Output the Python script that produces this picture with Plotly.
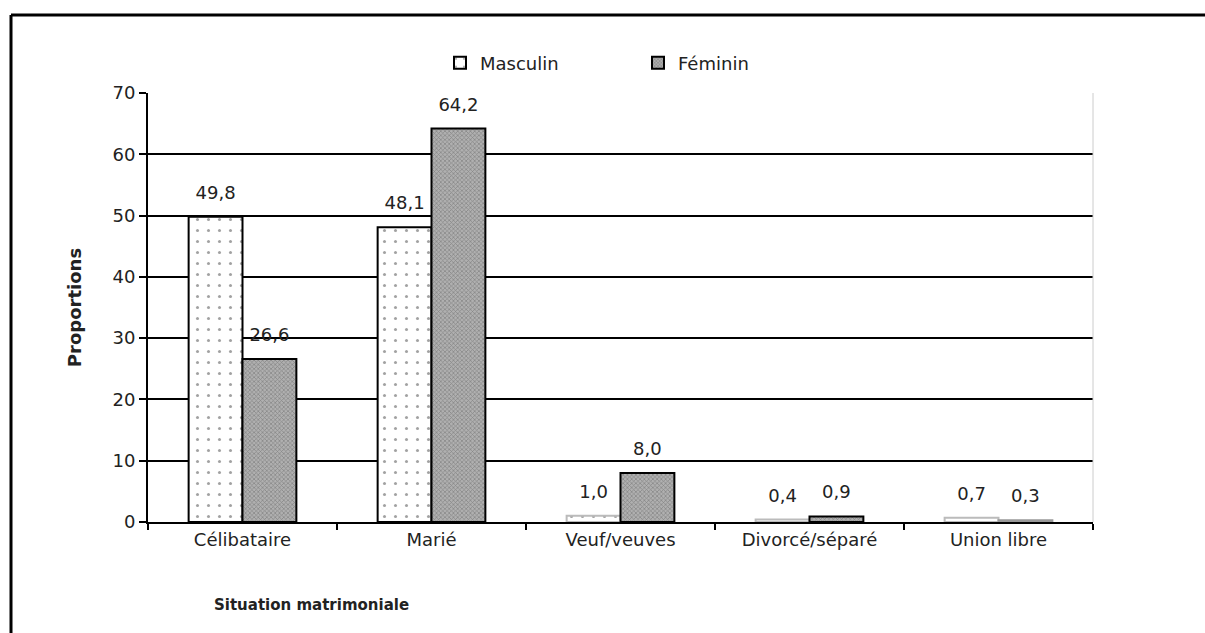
import plotly.graph_objects as go

categories = ["Célibataire", "Marié", "Veuf/veuves", "Divorcé/séparé", "Union libre"]
masculin = [49.8, 48.1, 1.0, 0.4, 0.7]
feminin = [26.6, 64.2, 8.0, 0.9, 0.3]
y_ticks = [0, 10, 20, 30, 40, 50, 60, 70]

def fr(v):
    return f"{v:.1f}".replace(".", ",")

def label(v):
    return f"<span style='font-size:18px'>{fr(v)}</span><br> "

FONT = "DejaVu Sans"

fig = go.Figure()
fig.add_trace(go.Bar(
    name="Masculin", x=categories, y=masculin,
    text=[label(v) for v in masculin], textposition="outside",
    textfont=dict(size=10, color="#222", family=FONT), cliponaxis=False,
    marker=dict(color="white",
                line=dict(color=["black", "black", "#bbbbbb", "#bbbbbb", "#bbbbbb"], width=2),
                pattern=dict(shape=".", fgcolor="#444", bgcolor="white", size=11, solidity=0.06)),
))
fig.add_trace(go.Bar(
    name="Féminin", x=categories, y=feminin,
    text=[label(v) for v in feminin], textposition="outside",
    textfont=dict(size=10, color="#222", family=FONT), cliponaxis=False,
    marker=dict(color="#9a9a9a",
                line=dict(color=["black", "black", "black", "black", "#999999"], width=2),
                pattern=dict(shape="x", fgcolor="#555", bgcolor="#b0b0b0", size=3, solidity=0.4)),
))

W, H = 1205, 633
L, R, T, B = 148, 112, 93, 111
pw, ph = W - L - R, H - T - B

fig.update_layout(
    width=W, height=H,
    margin=dict(l=L, r=R, t=T, b=B),
    paper_bgcolor="white", plot_bgcolor="white",
    font=dict(family=FONT, size=18, color="#222"),
    barmode="group", bargap=0.43, bargroupgap=0,
    uniformtext=dict(mode=False),
    showlegend=True,
    legend=dict(orientation="h", x=(440 - L) / pw, xanchor="left", y=1 + 30 / ph, yanchor="middle",
                font=dict(size=18), entrywidth=153, itemwidth=30, traceorder="normal"),
    xaxis=dict(showline=True, linecolor="black", linewidth=2, ticks="outside", tickson="boundaries",
               ticklen=6, tickwidth=2, tickcolor="black", tickfont=dict(size=18),
               showgrid=False, mirror=False),
    yaxis=dict(range=[0, 70], tickvals=y_ticks, showline=True, linecolor="black", linewidth=2,
               ticks="outside", ticklen=7, tickwidth=2, tickcolor="black",
               showgrid=True, gridcolor="black", gridwidth=1.5, zeroline=False,
               tickfont=dict(size=18),
               title=dict(text="<b>Proportions</b>", font=dict(size=18), standoff=26)),
    annotations=[dict(text="<b>Situation matrimoniale</b>", xref="paper", yref="paper",
                      x=(311 - L) / pw, y=-(605 - (T + ph)) / ph, xanchor="center", yanchor="middle",
                      showarrow=False, font=dict(size=15))],
    shapes=[
        dict(type="line", xref="paper", yref="paper", x0=1, x1=1, y0=0, y1=1,
             line=dict(color="#cccccc", width=1)),
        dict(type="line", xref="paper", yref="paper", x0=(11 - L) / pw, x1=(11 - L) / pw,
             y0=-(H + 10 - T - ph) / ph, y1=(T + ph - 15) / ph, line=dict(color="black", width=3)),
        dict(type="line", xref="paper", yref="paper", x0=(11 - L) / pw, x1=(W + 10 - L) / pw,
             y0=(T + ph - 15) / ph, y1=(T + ph - 15) / ph, line=dict(color="black", width=3)),
    ],
)

fig.write_html("out.html", config={"displayModeBar": False},
               post_script="document.body.style.margin='0';document.body.style.overflow='hidden';")
